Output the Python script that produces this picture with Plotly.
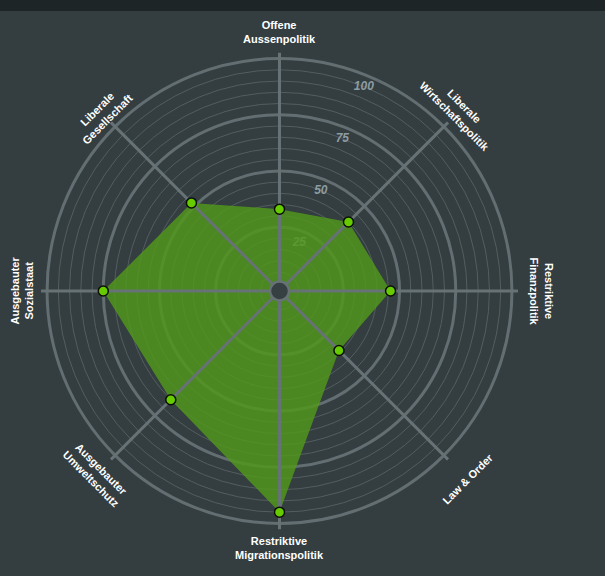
import math
import plotly.graph_objects as go

# ---- data ----
CATEGORIES = [
    "Offene<br>Aussenpolitik",
    "Liberale<br>Wirtschaftspolitik",
    "Restriktive<br>Finanzpolitik",
    "Law & Order",
    "Restriktive<br>Migrationspolitik",
    "Ausgebauter<br>Umweltschutz",
    "Ausgebauter<br>Sozialstaat",
    "Liberale<br>Gesellschaft",
]
VALUES = [33, 40, 46, 34, 95, 65, 75, 52]
THIN_TICKS = list(range(0, 101, 5))
MAJOR_TICKS = [25, 50, 75, 100]
MAJOR_LABELS = ["25", "50", "75", "100"]

# ---- style ----
BG = "#343d40"
R_MIN, R_MAX = -3.4, 102.7
THETAS = [i * 45 for i in range(len(CATEGORIES))]
TEXT_ANGLE = [0, 45, 90, -45, 0, 45, -90, -45]
LABEL_R = [259, 254, 262, 266, 257, 259, 258, 251]

W, H = 605, 576
CX, CY, RAD = 279.5, 291.0, 238.5
dom_x = [(CX - RAD) / W, (CX + RAD) / W]
dom_y = [1 - (CY + RAD) / H, 1 - (CY - RAD) / H]

fig = go.Figure()

# invisible anchor trace so the thin-ring subplot is drawn
fig.add_trace(go.Scatterpolar(
    r=[R_MIN], theta=[0], mode="markers", marker=dict(size=0, opacity=0),
    subplot="polar", hoverinfo="skip", showlegend=False))

# radial tick labels (under the fill)
fig.add_trace(go.Scatterpolar(
    r=[t - 5.3 for t in MAJOR_TICKS], theta=[22.5] * len(MAJOR_TICKS),
    mode="text", text=MAJOR_LABELS,
    textfont=dict(color="#8d9ca1", size=12, family="Liberation Sans, Arial",
                  style="italic", weight="bold"),
    subplot="polar2", hoverinfo="skip", showlegend=False))

# area
fig.add_trace(go.Scatterpolar(
    r=VALUES + [VALUES[0]], theta=THETAS + [THETAS[0]],
    mode="lines", fill="toself", fillcolor="rgba(82,152,28,0.83)",
    line=dict(width=0, color="rgba(0,0,0,0)"),
    subplot="polar2", showlegend=False))

# spokes
sr, st = [], []
for th in THETAS:
    sr += [R_MIN, R_MAX, None]
    st += [th, th, None]
fig.add_trace(go.Scatterpolar(
    r=sr, theta=st, mode="lines", line=dict(color="#667275", width=3),
    subplot="polar2", hoverinfo="skip", showlegend=False, connectgaps=False))

# markers
fig.add_trace(go.Scatterpolar(
    r=VALUES, theta=THETAS, mode="markers",
    marker=dict(size=10, color="#66cc00", line=dict(color="#0b0f05", width=1.5)),
    subplot="polar2", showlegend=False))

# center hub
fig.add_trace(go.Scatterpolar(
    r=[R_MIN], theta=[0], mode="markers",
    marker=dict(size=19, color="#363f42", line=dict(color="#667275", width=2.5)),
    subplot="polar2", hoverinfo="skip", showlegend=False))

common_ang = dict(rotation=90, direction="clockwise", showgrid=False,
                  showticklabels=False, showline=False, ticks="",
                  thetaunit="degrees")

fig.update_layout(
    width=W, height=H,
    paper_bgcolor=BG, plot_bgcolor=BG,
    margin=dict(l=0, r=0, t=0, b=0),
    showlegend=False,
    polar=dict(
        domain=dict(x=dom_x, y=dom_y),
        bgcolor=BG,
        radialaxis=dict(range=[R_MIN, R_MAX], tickvals=THIN_TICKS,
                        showticklabels=False, ticks="", showline=False,
                        gridcolor="#535e61", gridwidth=1),
        angularaxis=dict(type="linear", **common_ang),
    ),
    polar2=dict(
        domain=dict(x=dom_x, y=dom_y),
        bgcolor="rgba(0,0,0,0)",
        radialaxis=dict(range=[R_MIN, R_MAX], tickvals=MAJOR_TICKS,
                        showticklabels=False, ticks="", showline=False,
                        gridcolor="#626e71", gridwidth=2.5),
        angularaxis=dict(type="linear", **common_ang),
    ),
)

anns = []
for lab, th, ta, lr in zip(CATEGORIES, THETAS, TEXT_ANGLE, LABEL_R):
    a = math.radians(90 - th)
    px = CX + lr * math.cos(a)
    py = CY - lr * math.sin(a)
    anns.append(dict(
        x=px / W, y=1 - py / H, xref="paper", yref="paper",
        text="<b>" + lab + "</b>", showarrow=False, textangle=ta,
        xanchor="center", yanchor="middle", align="center",
        font=dict(color="white", size=11, family="Liberation Sans, Arial")))
fig.update_layout(annotations=anns)

fig.add_shape(type="rect", xref="paper", yref="paper", x0=0, x1=1,
              y0=1 - 11 / H, y1=1, fillcolor="#1e2527", line=dict(width=0),
              layer="below")

fig.write_html("out.html",
               config={"displayModeBar": False},
               post_script="document.body.style.margin='0';"
                           "document.body.style.background='#343d40';"
                           "document.documentElement.style.overflow='hidden';")
